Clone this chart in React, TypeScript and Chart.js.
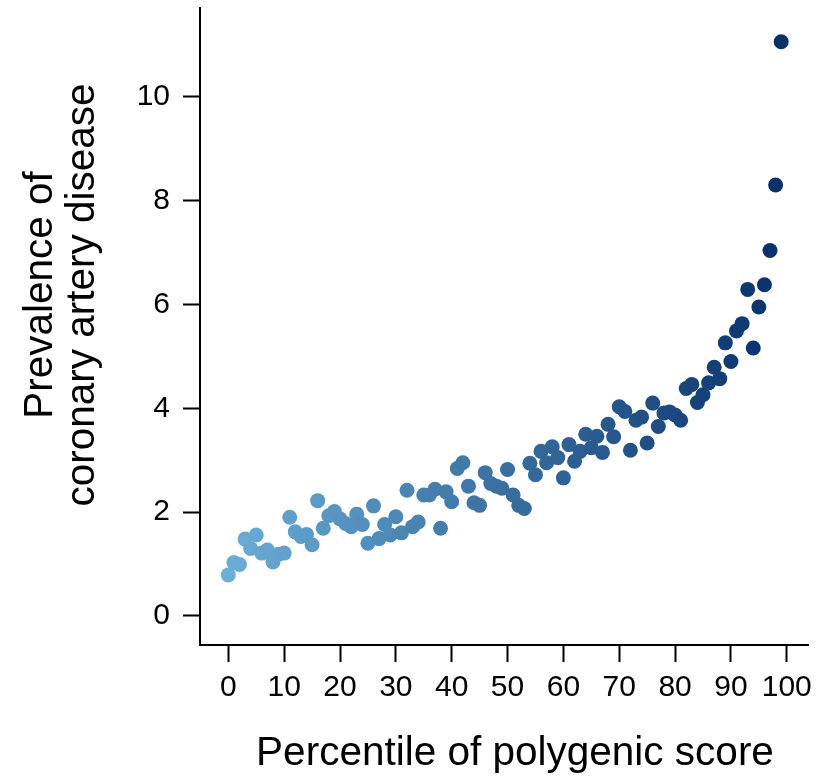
import React, { useEffect, useRef } from "react";
import { Chart, registerables } from "chart.js";

Chart.register(...registerables);

const percentiles = [
  0, 1, 2, 3, 4, 5, 6, 7, 8, 9,
  10, 11, 12, 13, 14, 15, 16, 17, 18, 19,
  20, 21, 22, 23, 24, 25, 26, 27, 28, 29,
  30, 31, 32, 33, 34, 35, 36, 37, 38, 39,
  40, 41, 42, 43, 44, 45, 46, 47, 48, 49,
  50, 51, 52, 53, 54, 55, 56, 57, 58, 59,
  60, 61, 62, 63, 64, 65, 66, 67, 68, 69,
  70, 71, 72, 73, 74, 75, 76, 77, 78, 79,
  80, 81, 82, 83, 84, 85, 86, 87, 88, 89,
  90, 91, 92, 93, 94, 95, 96, 97, 98, 99,
];

const prevalence = [
  0.79, 1.03, 0.99, 1.48, 1.30, 1.56, 1.21, 1.27, 1.04, 1.19,
  1.21, 1.90, 1.62, 1.53, 1.57, 1.37, 2.22, 1.69, 1.93, 2.01,
  1.87, 1.78, 1.72, 1.96, 1.76, 1.40, 2.12, 1.49, 1.76, 1.56,
  1.91, 1.60, 2.42, 1.72, 1.81, 2.33, 2.33, 2.44, 1.69, 2.39,
  2.20, 2.84, 2.95, 2.50, 2.18, 2.13, 2.76, 2.55, 2.50, 2.46,
  2.82, 2.33, 2.13, 2.07, 2.94, 2.72, 3.17, 2.95, 3.26, 3.05,
  2.66, 3.30, 2.98, 3.17, 3.50, 3.24, 3.46, 3.15, 3.69, 3.45,
  4.03, 3.94, 3.19, 3.77, 3.83, 3.33, 4.10, 3.65, 3.91, 3.93,
  3.87, 3.77, 4.38, 4.46, 4.11, 4.26, 4.49, 4.79, 4.57, 5.26,
  4.90, 5.49, 5.63, 6.29, 5.16, 5.95, 6.38, 7.04, 8.30, 11.06,
];

const xTicks = [0, 10, 20, 30, 40, 50, 60, 70, 80, 90, 100];
const yTicks = [0, 2, 4, 6, 8, 10];

const xTitle = "Percentile of polygenic score";
const yTitleLines = ["Prevalence of", "coronary artery disease"];

const FONT = '"Liberation Sans", Arial, Helvetica, sans-serif';
const LIGHT = [107, 174, 214];
const DARK = [8, 48, 107];

function colorAt(i: number, n: number) {
  const t = n > 1 ? i / (n - 1) : 0;
  const c = LIGHT.map((v, k) => Math.round(v + (DARK[k] - v) * t));
  return `rgb(${c[0]},${c[1]},${c[2]})`;
}

const titlesPlugin = {
  id: "axisTitles",
  afterDraw(chart: any) {
    const ctx = chart.ctx;
    ctx.save();
    ctx.fillStyle = "#000";
    ctx.font = `40.5px ${FONT}`;
    ctx.textAlign = "center";
    ctx.textBaseline = "alphabetic";
    ctx.fillText(xTitle, 515, 765);
    ctx.translate(0, 295);
    ctx.rotate(-Math.PI / 2);
    ctx.fillText(yTitleLines[0], 0, 52);
    ctx.fillText(yTitleLines[1], 0, 94);
    ctx.restore();
  },
};

export default function App() {
  const ref = useRef<HTMLCanvasElement | null>(null);

  useEffect(() => {
    if (!ref.current) return;
    const points = percentiles.map((x, i) => ({ x, y: prevalence[i] }));
    const colors = percentiles.map((_, i) => colorAt(i, percentiles.length));
    const chart = new Chart(ref.current, {
      type: "scatter",
      data: {
        datasets: [
          {
            data: points,
            backgroundColor: colors,
            borderColor: colors,
            borderWidth: 0,
            pointRadius: 7.5,
            pointHoverRadius: 7.5,
          },
        ],
      },
      plugins: [titlesPlugin],
      options: {
        animation: false,
        responsive: false,
        devicePixelRatio: 1,
        layout: { padding: { top: 8, right: 8, left: 0, bottom: 0 } },
        plugins: { legend: { display: false }, tooltip: { enabled: false } },
        scales: {
          x: {
            type: "linear",
            min: -5.07,
            max: 103.8,
            afterBuildTicks: (scale: any) => {
              scale.ticks = xTicks.map((v) => ({ value: v }));
            },
            afterFit: (scale: any) => {
              scale.height = 134;
              scale.paddingLeft = 0;
              scale.paddingRight = 0;
            },
            grid: {
              display: true,
              drawOnChartArea: false,
              drawTicks: true,
              tickLength: 17,
              tickWidth: 2,
              tickColor: "#000",
            },
            border: { display: true, color: "#000", width: 2 },
            ticks: {
              color: "#000",
              font: { family: FONT, size: 30 },
              padding: 8,
              maxRotation: 0,
              autoSkip: false,
            },
          },
          y: {
            type: "linear",
            min: -0.56,
            max: 11.71,
            afterBuildTicks: (scale: any) => {
              scale.ticks = yTicks.map((v) => ({ value: v }));
            },
            afterFit: (scale: any) => {
              scale.width = 200;
              scale.paddingTop = 0;
              scale.paddingBottom = 0;
            },
            grid: {
              display: true,
              drawOnChartArea: false,
              drawTicks: true,
              tickLength: 17,
              tickWidth: 2,
              tickColor: "#000",
            },
            border: { display: true, color: "#000", width: 2 },
            ticks: {
              color: "#000",
              font: { family: FONT, size: 30 },
              padding: 13,
              autoSkip: false,
            },
          },
        },
      },
    });
    return () => chart.destroy();
  }, []);

  return (
    <div style={{ position: "absolute", left: 0, top: 0, width: 816, height: 779, background: "#fff" }}>
      <canvas ref={ref} width={816} height={779} style={{ display: "block", width: 816, height: 779 }} />
    </div>
  );
}
